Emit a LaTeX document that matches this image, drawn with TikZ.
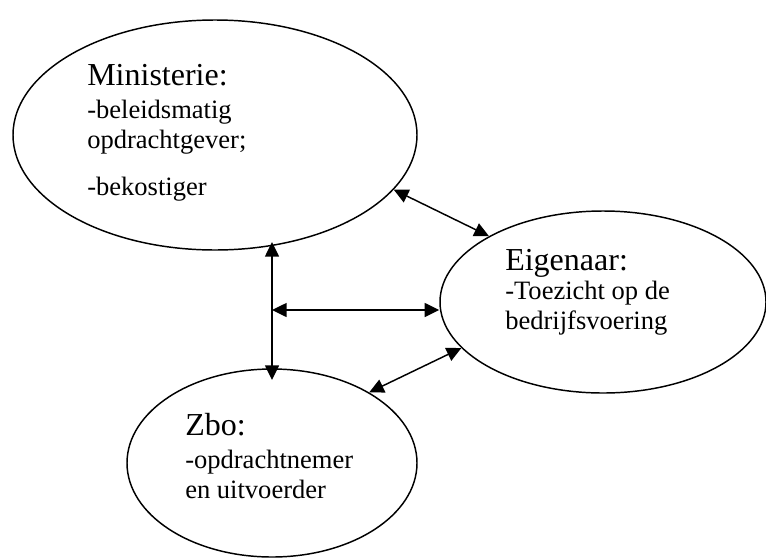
\documentclass[tikz,border=0pt]{standalone}
\usepackage{fontspec}
\setmainfont{Liberation Serif}
\usetikzlibrary{arrows.meta,positioning,shapes.geometric}
\tikzset{
  party/.style={ellipse,draw=black,line width=1.1pt,inner sep=0pt},
  head/.style={anchor=base west,inner sep=0pt,font=\fontsize{24}{28}\selectfont},
  body/.style={anchor=base west,inner sep=0pt,align=left,font=\fontsize{19.9}{22.5}\selectfont},
  arr/.style={>={Triangle[length=11pt,width=10.5pt]},<->,line width=1.1pt,draw=black},
}

\begin{document}
\begin{tikzpicture}[x=0.75pt,y=-0.75pt]
  \useasboundingbox (0,0) rectangle (766,557);

  % base of a body node is its last line
  \node[party,minimum width=303pt,minimum height=172.5pt] (min) at (215,135) {};
  \node[head] (minhead) at (87,85) {Ministerie:};
  \node[body] (mintext) at (87,195) {-beleidsmatig\\opdrachtgever;\\[12.75pt]-bekostiger};

  \node[party,minimum width=244.5pt,minimum height=136.5pt] (eig) at (603,302) {};
  \node[head] (eighead) at (505,270) {Eigenaar:};
  \node[body] (eigtext) at (505,329) {-Toezicht op de\\bedrijfsvoering};

  \node[party,minimum width=217.5pt,minimum height=141pt] (zbo) at (272,463) {};
  \node[head] (zbohead) at (185,435) {Zbo:};
  \node[body] (zbotext) at (185,498) {-opdrachtnemer\\en uitvoerder};

  \coordinate (vtop) at (272,242);
  \coordinate (vbot) at (272,380);
  \coordinate (hmid) at (272,310);
  \draw[arr] (vtop) -- (vbot);
  \draw[arr] (hmid) -- (eig.west |- hmid);
  \draw[arr] (min.-17) -- (eig.150);
  \draw[arr] (zbo.36) -- (eig.198);
\end{tikzpicture}
\end{document}
